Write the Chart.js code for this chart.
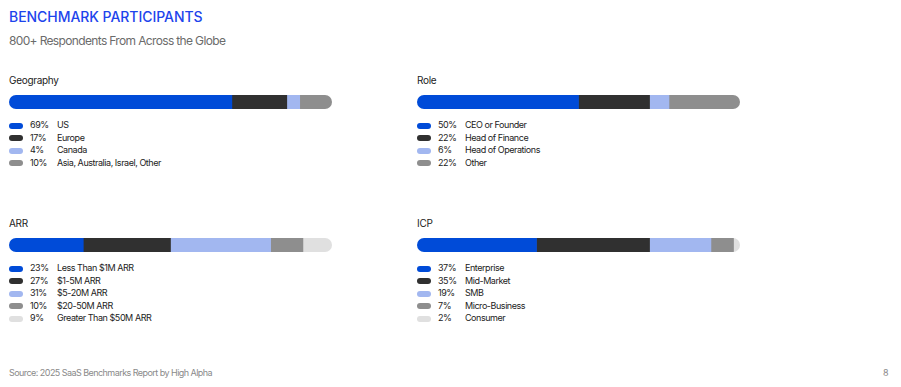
<!DOCTYPE html>
<html>
<head>
<meta charset="utf-8">
<script src="https://cdn.jsdelivr.net/npm/chart.js@4"></script>
<style>
  body { margin: 0; background: #fff; font-family: Inter, "Noto Sans", sans-serif; color: #222; }
  #page { position: relative; width: 901px; height: 387px; overflow: hidden; }
  .abs { position: absolute; white-space: nowrap; }
  #title { left: 9px; top: 8px; font-size: 14px; font-weight: 500; color: #1d44ec; letter-spacing: -0.05px; }
  #subtitle { left: 9px; top: 33px; font-size: 12px; color: #6b6b6b; letter-spacing: -0.65px; }
  .head { font-size: 10px; color: #222; letter-spacing: -0.3px; }
  .barbox { position: absolute; width: 323px; height: 14px; }
  .legend { position: absolute; font-size: 9px; color: #222; letter-spacing: -0.45px; white-space: nowrap; width: 300px; }
  .row { position: relative; height: 12.6px; line-height: 12.6px; }
  .sw { position: absolute; left: 0; top: 3.5px; width: 14px; height: 6px; border-radius: 3px; }
  .pct { position: absolute; left: 21px; }
  .lab { position: absolute; left: 48px; }
  #source { left: 9px; top: 367px; font-size: 9px; color: #8a8a8a; letter-spacing: -0.55px; }
  #pnum { left: 883px; top: 367px; font-size: 9px; color: #8a8a8a; }
</style>
</head>
<body>
<div id="page">
  <div id="title" class="abs">BENCHMARK PARTICIPANTS</div>
  <div id="subtitle" class="abs">800+ Respondents From Across the Globe</div>
  <div id="source" class="abs">Source: 2025 SaaS Benchmarks Report by High Alpha</div>
  <div id="pnum" class="abs">8</div>
</div>
<script>
// data
const geoLabels = ['US', 'Europe', 'Canada', 'Asia, Australia, Israel, Other'];
const geoValues = [69, 17, 4, 10];

const roleLabels = ['CEO or Founder', 'Head of Finance', 'Head of Operations', 'Other'];
const roleValues = [50, 22, 6, 22];

const arrLabels = ['Less Than $1M ARR', '$1-5M ARR', '$5-20M ARR', '$20-50M ARR', 'Greater Than $50M ARR'];
const arrValues = [23, 27, 31, 10, 9];

const icpLabels = ['Enterprise', 'Mid-Market', 'SMB', 'Micro-Business', 'Consumer'];
const icpValues = [37, 35, 19, 7, 2];

const colors = ['#004bd8', '#303030', '#a2b7f0', '#8e8e8e', '#e0e0e0'];

// clip the whole stack to one pill shape
const pillClip = {
    id: 'pillClip',
    beforeDatasetsDraw (chart) {
        const x = chart.scales.x;
        const bar = chart.getDatasetMeta(0).data[0];
        const top = bar.y - bar.height / 2;
        const h = bar.height;
        const left = x.getPixelForValue(0);
        const right = x.getPixelForValue(100);
        const r = h / 2;
        const ctx = chart.ctx;
        ctx.save();
        ctx.beginPath();
        ctx.moveTo(left + r, top);
        ctx.lineTo(right - r, top);
        ctx.arc(right - r, top + r, r, -Math.PI / 2, Math.PI / 2);
        ctx.lineTo(left + r, top + h);
        ctx.arc(left + r, top + r, r, Math.PI / 2, Math.PI * 1.5);
        ctx.closePath();
        ctx.clip();
    },
    afterDatasetsDraw (chart) {
        chart.ctx.restore();
    }
};

function panel (name, labels, values, x, y) {
    const page = document.getElementById('page');

    let head = document.createElement('div');
    head.className = 'abs head';
    head.style.left = x + 'px';
    head.style.top = (y - 21) + 'px';
    head.textContent = name;
    page.appendChild(head);

    let box = document.createElement('div');
    box.className = 'barbox';
    box.style.left = x + 'px';
    box.style.top = y + 'px';
    let cv = document.createElement('canvas');
    box.appendChild(cv);
    page.appendChild(box);

    new Chart(cv.getContext('2d'), {
        type: 'bar',
        data: {
            labels: [name],
            datasets: values.map((v, i) => ({
                label: labels[i],
                data: [v],
                backgroundColor: colors[i],
                borderWidth: 0,
                barPercentage: 1,
                categoryPercentage: 1
            }))
        },
        options: {
            indexAxis: 'y',
            responsive: true,
            maintainAspectRatio: false,
            animation: false,
            layout: { padding: 0 },
            plugins: { legend: { display: false }, tooltip: { enabled: false } },
            scales: {
                x: { stacked: true, min: 0, max: 100, display: false },
                y: { stacked: true, display: false }
            }
        },
        plugins: [pillClip]
    });

    let legend = document.createElement('div');
    legend.className = 'legend';
    legend.style.left = x + 'px';
    legend.style.top = (y + 24) + 'px';
    labels.forEach((lab, i) => {
        let row = document.createElement('div');
        row.className = 'row';
        row.innerHTML = '<span class="sw" style="background:' + colors[i] + '"></span>' +
            '<span class="pct">' + values[i] + '%</span>' +
            '<span class="lab">' + lab + '</span>';
        legend.appendChild(row);
    });
    page.appendChild(legend);
}

panel('Geography', geoLabels, geoValues, 9, 95);
panel('Role', roleLabels, roleValues, 417, 95);
panel('ARR', arrLabels, arrValues, 9, 238);
panel('ICP', icpLabels, icpValues, 417, 238);
</script>
</body>
</html>
